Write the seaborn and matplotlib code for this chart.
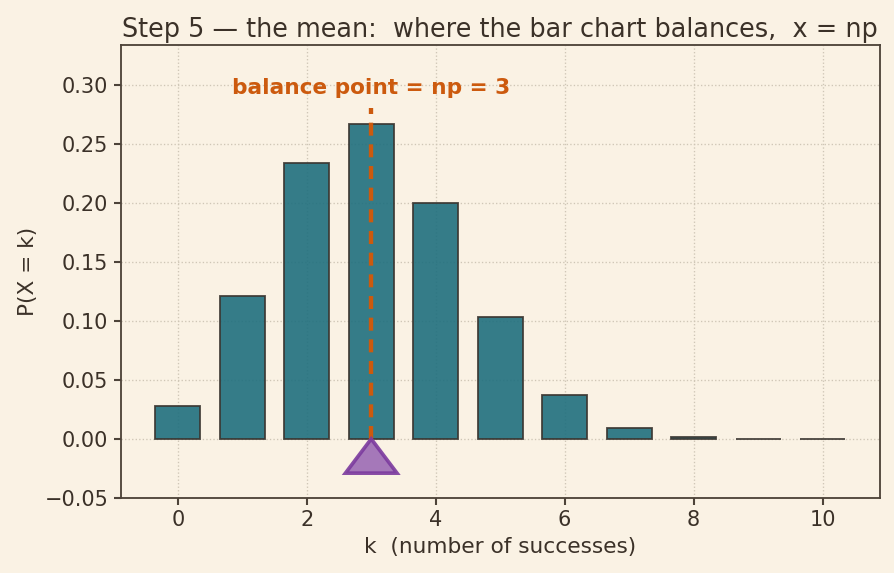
import numpy as np
import pandas as pd
import matplotlib
matplotlib.use("Agg")
import matplotlib.pyplot as plt
import seaborn as sns

# binomial pmf (n = 10, p = 0.3)
k_values = [0, 1, 2, 3, 4, 5, 6, 7, 8, 9, 10]
pmf_values = [0.0282, 0.1211, 0.2335, 0.2668, 0.2001, 0.1029, 0.0368, 0.0090, 0.0014, 0.0001, 0.0000]
mean_np = 3
dash_top = 0.28
label_y = 0.297
tri_half = 0.4
tri_depth = 0.029

BG = "#faf2e4"
INK = "#3b3128"
BAR = "#1f6f7e"
ORANGE = "#cc5a0e"
PURPLE = "#7b3a9e"

sns.set_theme(style="whitegrid")
plt.rcParams.update({
    "figure.facecolor": BG,
    "axes.facecolor": BG,
    "axes.edgecolor": "#4d4339",
    "axes.linewidth": 1.1,
    "grid.color": "#cfc6b6",
    "grid.linestyle": ":",
    "grid.linewidth": 0.8,
    "text.color": INK,
    "axes.labelcolor": INK,
    "xtick.color": INK,
    "ytick.color": INK,
})
plt.rcParams["font.family"] = ["DejaVu Sans"]

df = pd.DataFrame({"k": k_values, "p": pmf_values})

fig, ax = plt.subplots(figsize=(7.45, 4.775), dpi=120)
sns.barplot(data=df, x="k", y="p", native_scale=True, width=0.7, saturation=1,
            color=BAR, edgecolor="#3a3530", linewidth=1.1, alpha=0.9, ax=ax)

# balance line + fulcrum
ax.plot([mean_np, mean_np], [0, dash_top], color=ORANGE, lw=2.6, ls=(0, (3, 2)), zorder=4)
ax.fill([mean_np, mean_np - tri_half, mean_np + tri_half],
        [0, -tri_depth, -tri_depth], facecolor="#9c6bb5", alpha=0.9,
        edgecolor=PURPLE, lw=2.2, zorder=5, clip_on=False)
ax.text(mean_np, label_y, "balance point = np = 3", color=ORANGE, fontsize=13,
        fontweight="bold", ha="center", va="center")

ax.set_xticks([0, 2, 4, 6, 8, 10])
ax.set_xlim(-0.885, 10.885)
ax.set_ylim(-0.05, max(pmf_values) * 1.25)
ax.tick_params(labelsize=12.5, length=4, color="#4d4339", left=True, bottom=True)
ax.set_xlabel("k  (number of successes)", fontsize=13)
ax.set_ylabel("P(X = k)", fontsize=13)
ax.set_title("Step 5 \u2014 the mean:  where the bar chart balances,  x = np",
             fontsize=15.3, loc="center", pad=5)
for s in ax.spines.values():
    s.set_visible(True)

plt.subplots_adjust(left=0.135, right=0.984, top=0.921, bottom=0.131)
fig.savefig("out.png", dpi=120, facecolor=BG)
